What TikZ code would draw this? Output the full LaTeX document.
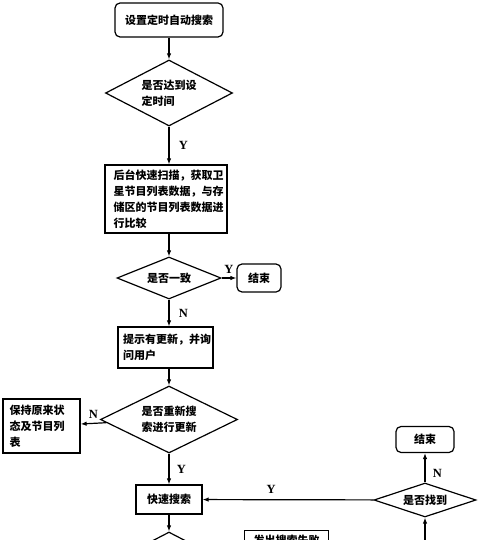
\documentclass[tikz,border=0pt]{standalone}
\usepackage{fontspec}
\setmainfont{Noto Sans CJK SC}
\newfontfamily\ynfont{Liberation Serif}
\usetikzlibrary{shapes.geometric,arrows.meta}
\begin{document}
\begin{tikzpicture}[x=1pt,y=-1pt,line width=1.2pt,
    font=\fontsize{11}{16}\selectfont\bfseries,
    box/.style={draw,align=left,inner sep=0pt},
    endbox/.style={box,rounded corners=5pt},
    ask/.style={draw,diamond,aspect=2,inner sep=0pt,align=left},
    yn/.style={font=\ynfont\bfseries\fontsize{12.5}{13}\selectfont},
    arr/.style={-{Latex[length=6pt,width=4.5pt]}}]
  \useasboundingbox (0,0) rectangle (500,540);
  \clip (0,0) rectangle (500,540);
  \node [endbox,minimum width=108,minimum height=34] (start) at (169,20) {设置定时自动搜索};
  \node [ask,minimum width=127,minimum height=66] (reach) at (169,93) {是否达到设\\定时间};
  \node [box,text width=105,minimum width=122,minimum height=68] (scan) at (166,199)
    {后台快速扫描，获取卫\\星节目列表数据，与存\\储区的节目列表数据进\\行比较};
  \node [ask,minimum width=104,minimum height=42] (same) at (169,278) {是否一致};
  \node [endbox,minimum width=44,minimum height=28] (stopa) at (259,278) {结束};
  \node [box,text width=85,minimum width=95,minimum height=41] (notice) at (165.5,347.5)
    {提示有更新，并询\\问用户};
  \node [ask,minimum width=137,minimum height=67] (redo) at (169,419.5) {是否重新搜\\索进行更新};
  \node [box,text width=64,minimum width=77,minimum height=54] (keep) at (41.5,426)
    {保持原来状\\态及节目列\\表};
  \node [box,minimum width=66,minimum height=29] (fast) at (169,499.5) {快速搜索};
  \node [ask,minimum width=127,minimum height=66] (next) at (169,565) {};
  \node [ask,minimum width=102,minimum height=34] (found) at (425,500) {是否找到};
  \node [endbox,minimum width=58,minimum height=26] (stopb) at (425,439.5) {结束};
  \node [box,anchor=north,inner xsep=9pt,inner ysep=4pt] (fail) at (286.5,530) {发出搜索失败};
  \coordinate (src) at (425,545);
  \draw [arr] (start) -- (reach);
  \draw [arr] (reach) -- node [yn,right=6pt] {Y} (reach.south |- scan.north);
  \draw [arr] (scan.south -| same.north) -- (same);
  \draw [arr] (same) -- node [yn,above=1pt] {Y} (stopa);
  \draw [arr] (same) -- node [yn,right=6pt] {N} (same.south |- notice.north);
  \draw [arr] (notice.south -| redo.north) -- (redo);
  \draw [arr] (redo) -- node [yn,above=1pt] {N} (keep);
  \draw [arr] (redo) -- node [yn,right=4pt] {Y} (fast);
  \draw [arr] (fast) -- (next);
  \draw [arr] (found) -- node [yn,above=2pt,pos=0.6] {Y} (fast);
  \draw [arr] (found) -- node [yn,right=4pt,pos=0.3] {N} (stopb);
  \draw [arr] (src) -- (found);
\end{tikzpicture}
\end{document}
